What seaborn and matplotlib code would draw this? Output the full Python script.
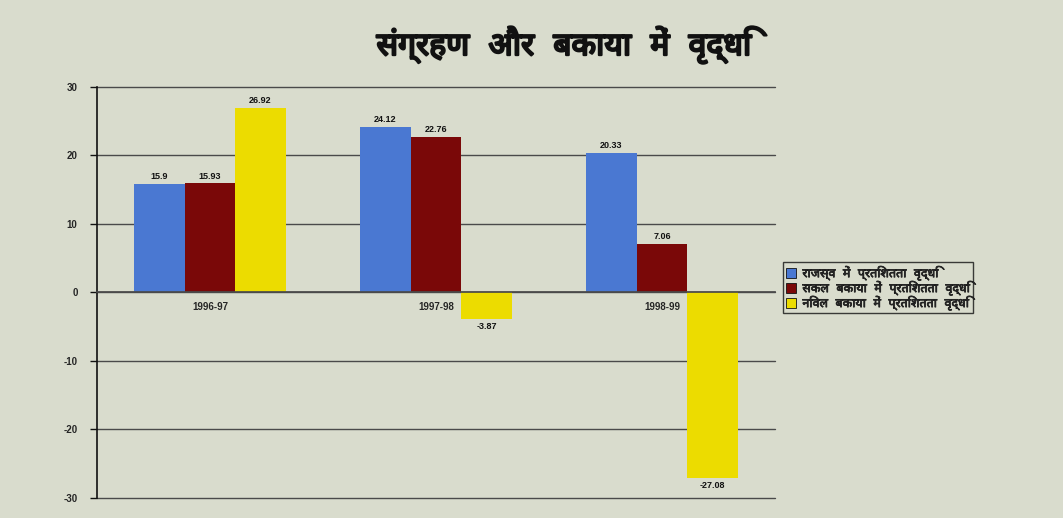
import matplotlib
matplotlib.use("Agg")
import matplotlib.pyplot as plt
from matplotlib import font_manager as fm
import matplotlib.patheffects as pe
import seaborn as sns
import pandas as pd

# ---- data ----
years = ["1996-97", "1997-98", "1998-99"]
series_names = [
    "राजस्व में प्रतिशतता वृद्धि",
    "सकल बकाया में प्रतिशतता वृद्धि",
    "निवल बकाया में प्रतिशतता वृद्धि",
]
revenue_growth = [15.9, 24.12, 20.33]
gross_arrears_growth = [15.93, 22.76, 7.06]
net_arrears_growth = [26.92, -3.87, -27.08]
title_text = "संग्रहण और बकाया में वृद्धि"
yticks = [-30, -20, -10, 0, 10, 20, 30]

colors = ["#4a78d2", "#7a0808", "#ecdc00"]
bg = "#d9dccd"

# ---- find Devanagari-capable fonts (prefer a family with a bold face) ----
deva_families = {}
try:
    from fontTools.ttLib import TTFont
    for f in sorted(fm.findSystemFonts()):
        try:
            tt = TTFont(f, fontNumber=0, lazy=True)
            cmap = tt.getBestCmap()
            if cmap and 0x0915 in cmap and 0x093F in cmap:
                fm.fontManager.addfont(f)
                name = fm.FontProperties(fname=f).get_name()
                deva_families.setdefault(name, []).append(f)
        except Exception:
            pass
except Exception:
    pass

deva_family = None
for name in deva_families:
    for e in fm.fontManager.ttflist:
        if e.name == name and (e.weight in ("bold", "heavy", "black") or
                               (isinstance(e.weight, int) and e.weight >= 600)):
            deva_family = name
            break
    if deva_family:
        break
if deva_family is None and deva_families:
    deva_family = next(iter(deva_families))

sns.set_theme(style="white")
num_font = ["Liberation Sans", "DejaVu Sans"]
hindi_font = ([deva_family] if deva_family else []) + ["Noto Sans", "DejaVu Sans"]
plt.rcParams["font.family"] = num_font

rows = []
for vals, name in zip([revenue_growth, gross_arrears_growth, net_arrears_growth], series_names):
    for y, v in zip(years, vals):
        rows.append({"year": y, "series": name, "value": v})
df = pd.DataFrame(rows)

fig = plt.figure(figsize=(10.63, 5.18), dpi=100)
fig.patch.set_facecolor(bg)
ax = fig.add_axes([0.0913, 0.0386, 0.6377, 0.7935])
ax.set_facecolor(bg)

sns.barplot(data=df, x="year", y="value", hue="series", hue_order=series_names,
            order=years, palette=colors, saturation=1, width=0.67, gap=0,
            ax=ax, legend=True, errorbar=None, linewidth=0, edgecolor="none")

ax.set_xlim(-0.5, 2.5)
ax.set_ylim(-30, 30)
ax.set_yticks(yticks)
ax.set_yticklabels([str(t) for t in yticks], fontsize=7, fontweight="bold")
ax.yaxis.grid(True, color="#4a4a4a", linewidth=1.0)
for gl in ax.get_ygridlines():
    gl.set_clip_on(False)
ax.set_axisbelow(True)
ax.set_xlabel("")
ax.set_ylabel("")

for c in ax.containers:
    ax.bar_label(c, fmt="%g", padding=2, fontsize=6.5, fontweight="bold", color="#111111")

for s in ["top", "right"]:
    ax.spines[s].set_visible(False)
ax.spines["left"].set_color("#111111")
ax.spines["left"].set_linewidth(1.2)
ax.spines["bottom"].set_position(("data", 0))
ax.spines["bottom"].set_color("#4a4a4a")
ax.tick_params(axis="x", length=0, pad=7, labelsize=7)
for lab in ax.get_xticklabels():
    lab.set_fontweight("bold")
ax.tick_params(axis="y", length=5, width=1, color="#111111", left=True, pad=9)

handles, labels = ax.get_legend_handles_labels()
leg = ax.legend(handles, labels, loc="upper left",
                bbox_to_anchor=(0.7366, 0.494), bbox_transform=fig.transFigure,
                borderaxespad=0,
                frameon=True, fancybox=False, edgecolor="#111111", facecolor=bg,
                prop=fm.FontProperties(family=hindi_font, size=9, weight="bold"),
                handlelength=0.8, handleheight=0.8, handletextpad=0.5,
                borderpad=0.25, labelspacing=0.0)
leg.get_frame().set_linewidth(1.0)
for h in leg.legend_handles:
    h.set_edgecolor("#111111")
    h.set_linewidth(0.6)
for t in leg.get_texts():
    t.set_path_effects([pe.withStroke(linewidth=0.5, foreground="#111111")])

fig.text(0.531, 0.913, title_text, ha="center", va="center",
         fontsize=23, fontweight="bold", family=hindi_font, color="#111111",
         path_effects=[pe.withStroke(linewidth=1.6, foreground="#111111")])

fig.savefig("out.png", dpi=100, facecolor=bg)
